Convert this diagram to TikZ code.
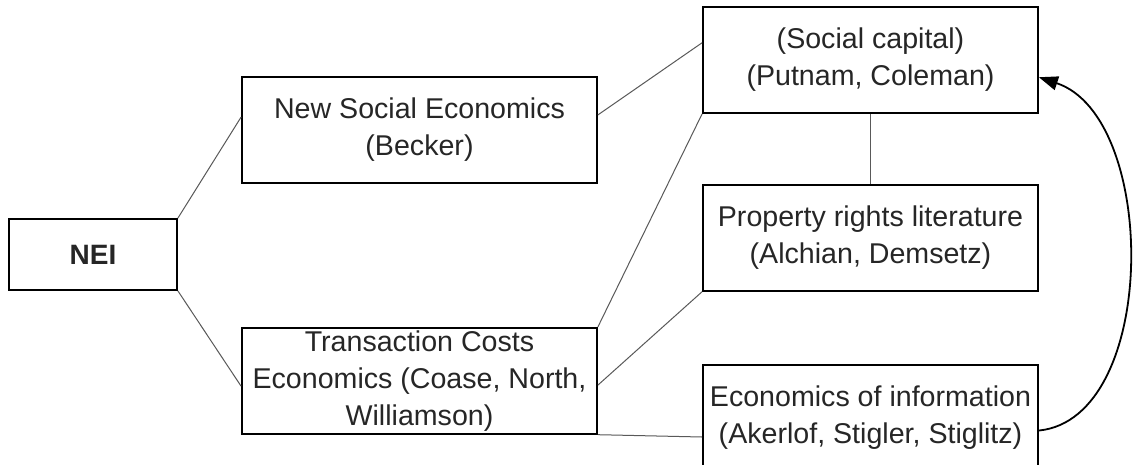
\documentclass[tikz,border=0pt]{standalone}
\usepackage{fontspec}
\setmainfont{Liberation Sans}
\usetikzlibrary{positioning,calc,arrows.meta}
\definecolor{txt}{HTML}{262626}

\begin{document}
\begin{tikzpicture}[x=0.5pt,y=-0.5pt,
  box/.style={rectangle, draw, line width=0.9pt, inner sep=0pt, align=center,
    text=txt, font=\fontsize{14.3}{18.5}\selectfont},
  wide/.style={box, minimum width=177.5pt, minimum height=53pt},
  col/.style={box, minimum width=167.5pt, minimum height=53pt},
  link/.style={draw=black!65, line width=0.5pt},
  >={Triangle[length=9.5pt,width=7pt]}]
  \useasboundingbox (0,0) rectangle (1134,465);
  \clip (0,0) rectangle (1134,465);
  \fill[white] (0,0) rectangle (1134,465);
   \node[box, minimum width=84pt, minimum height=35.5pt,
    font=\fontsize{14}{18}\selectfont\bfseries] (NEI) at (93,254.5) {NEI};
  \node[wide] (NSE) at (419.5,130) {New Social Economics\\(Becker)};
  \node[wide, below=71.5pt of NSE] (TCE) {Transaction Costs\\Economics (Coase, North,\\Williamson)};
  \node[col] (SC) at (870.5,60) {(Social capital)\\(Putnam, Coleman)};
  \node[col, below=35pt of SC] (PR) {Property rights literature\\(Alchian, Demsetz)};
  \node[col, below=36pt of PR] (EoI) {Economics of information\\(Akerlof, Stigler, Stiglitz)};
  \draw[link] (NEI.north east) -- ($(NSE.north west)!0.38!(NSE.south west)$);
  \draw[link] (NEI.south east) -- ($(TCE.north west)!0.55!(TCE.south west)$);
  \draw[link] ($(NSE.north east)!0.36!(NSE.south east)$) -- ($(SC.north west)!0.34!(SC.south west)$);
  \draw[link] (TCE.north east) -- (SC.south west);
  \draw[link] ($(TCE.north east)!0.54!(TCE.south east)$) -- (PR.south west);
  \draw[link] (TCE.south east) -- ($(EoI.north west)!0.68!(EoI.south west)$);
  \draw[link] (SC.south) -- (PR.north);
  \draw[->, line width=0.9pt] ($(EoI.north east)!0.62!(EoI.south east)$)
    .. controls +(120,-12) and +(120,40) .. ($(SC.north east)!0.66!(SC.south east)$);
\end{tikzpicture}
\end{document}
